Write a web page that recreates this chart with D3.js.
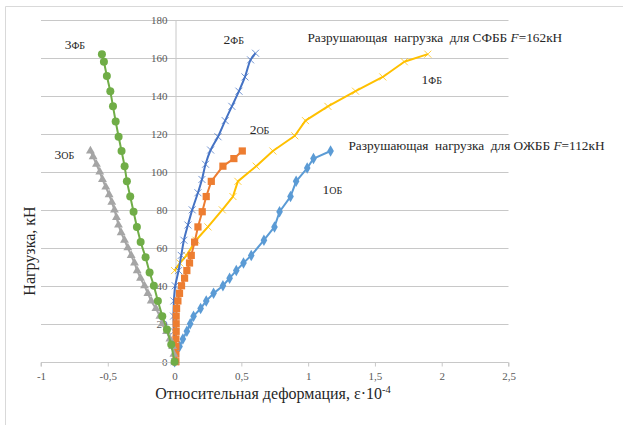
<!DOCTYPE html>
<html>
<head>
<meta charset="utf-8">
<script src="https://cdn.jsdelivr.net/npm/d3@7"></script>
<style>
  body { margin: 0; background: #fff; }
  text { font-family: "Liberation Serif", "Times New Roman", serif; }
</style>
</head>
<body>
<div id="chart"></div>
<script>
// values: [strain (e-4), load kN]
const ob1 = [[0,0],[0.01,4],[0.037,8],[0.062,12],[0.092,16],[0.117,20],[0.142,24],[0.195,28],[0.237,32],[0.292,36],[0.362,40],[0.412,44],[0.462,48],[0.516,52],[0.574,56],[0.669,64],[0.748,71],[0.786,79],[0.868,87],[0.91,95],[0.993,102],[1.04,107],[1.168,111]];
const ob2 = [[0.01,0],[0.01,4],[0.01,8],[0.01,12],[0.012,16],[0.012,20],[0.012,24],[0.015,28],[0.025,32],[0.037,36],[0.052,40],[0.075,44],[0.092,48],[0.112,52],[0.125,56],[0.15,63],[0.175,71],[0.207,79],[0.237,87],[0.275,95],[0.362,103],[0.444,107],[0.507,111]];
const ob3 = [[0,0],[-0.005,4],[-0.015,8],[-0.035,12],[-0.06,16],[-0.09,20],[-0.11,24],[-0.14,28],[-0.175,32],[-0.2,36],[-0.225,40],[-0.255,44],[-0.28,48],[-0.3,52],[-0.325,56],[-0.35,60],[-0.375,64],[-0.4,68],[-0.42,72],[-0.435,76],[-0.45,80],[-0.47,84],[-0.49,88],[-0.515,92],[-0.54,96],[-0.56,100],[-0.585,104],[-0.61,108],[-0.63,111]];
const fb1 = [[0,48],[0.04,52],[0.09,56],[0.16,64],[0.25,71],[0.357,80],[0.437,87],[0.474,95],[0.611,103],[0.736,111],[0.9,119],[0.98,127],[1.148,134.5],[1.355,142.5],[1.559,150],[1.72,158],[1.896,162]];
const fb2 = [[0,0],[0,8],[-0.005,16],[-0.008,24],[-0.005,32],[0.005,40],[0.03,48],[0.05,56],[0.07,64],[0.1,72],[0.132,80],[0.175,89],[0.205,96],[0.232,104],[0.27,111.5],[0.325,118.5],[0.379,127],[0.429,134.5],[0.482,142.5],[0.527,150],[0.569,159],[0.606,162.5]];
const fb3 = [[0,0],[-0.025,9],[-0.057,17],[-0.092,24],[-0.125,32],[-0.155,40],[-0.187,47],[-0.217,55],[-0.254,63],[-0.282,71],[-0.307,79],[-0.332,87],[-0.357,95],[-0.374,103],[-0.397,111],[-0.419,118.5],[-0.441,126.5],[-0.461,134.5],[-0.481,142.5],[-0.507,150.5],[-0.529,158],[-0.544,162]];

const xTicks = [-1, -0.5, 0, 0.5, 1, 1.5, 2, 2.5];
const xTickLabels = ["-1", "-0,5", "0", "0,5", "1", "1,5", "2", "2,5"];
const yTicks = [0, 20, 40, 60, 80, 100, 120, 140, 160, 180];

const series = [
  { name: "1ФБ", data: fb1, color: "#ffc000", marker: "cross", curve: d3.curveLinear },
  { name: "2ФБ", data: fb2, color: "#4472c4", marker: "cross", curve: d3.curveCatmullRom },
  { name: "1ОБ", data: ob1, color: "#5b9bd5", marker: "diamond", curve: d3.curveLinear },
  { name: "2ОБ", data: ob2, color: "#ed7d31", marker: "square", curve: d3.curveLinear },
  { name: "3ОБ", data: ob3, color: "#a5a5a5", marker: "triangle", curve: d3.curveLinear },
  { name: "3ФБ", data: fb3, color: "#70ad47", marker: "circle", curve: d3.curveLinear }
];

// series labels, anchored in data units
const seriesLabels = [
  { num: "3", sub: "ФБ", at: [-0.823, 164.5] },
  { num: "2", sub: "ФБ", at: [0.367, 167.5] },
  { num: "2", sub: "ОБ", at: [0.562, 120] },
  { num: "3", sub: "ОБ", at: [-0.898, 107] },
  { num: "1", sub: "ФБ", at: [1.849, 146.5] },
  { num: "1", sub: "ОБ", at: [1.108, 88.3] }
];
const notes = [
  { pre: "Разрушающая  нагрузка  для СФББ ", f: "F", post: "=162кН", at: [0.995, 168.5] },
  { pre: "Разрушающая  нагрузка  для ОЖББ ", f: "F", post: "=112кН", at: [1.302, 111.5] }
];

const width = 626;
const height = 425;

const svg = d3.select("#chart")
  .append("svg")
  .attr("width", width)
  .attr("height", height);

// chart frame (only top and left edges are in view)
svg.append("path")
  .attr("d", "M5.5,425V6.5H623")
  .attr("fill", "none")
  .attr("stroke", "#d9d9d9");

const x = d3.scaleLinear().domain([-1, 2.5]).range([41, 508.5]);
const y = d3.scaleLinear().domain([0, 180]).range([361.7, 20]);

// gridlines
svg.append("g")
  .selectAll("line")
  .data(yTicks.slice(1))
  .join("line")
  .attr("x1", x(-1))
  .attr("x2", x(2.5))
  .attr("y1", d => Math.round(y(d)) + 0.5)
  .attr("y2", d => Math.round(y(d)) + 0.5)
  .attr("stroke", "#c8c8c8")
  .attr("stroke-width", 1);

// y axis at x = 0
const yAxis = svg.append("g")
  .attr("transform", `translate(${Math.round(x(0)) + 0.5},0)`)
  .call(d3.axisLeft(y).tickValues(yTicks).tickSize(0).tickPadding(8));
yAxis.attr("font-family", null);
yAxis.select(".domain").attr("stroke", "#c8c8c8");
yAxis.selectAll("text")
  .style("font-size", "11px")
  .attr("fill", "#595959");

// x axis at y = 0
const xAxis = svg.append("g")
  .attr("transform", `translate(0,${Math.round(y(0)) + 0.5})`)
  .call(d3.axisBottom(x).tickValues(xTicks).tickSize(4).tickPadding(6)
    .tickFormat((d, i) => xTickLabels[i]));
xAxis.attr("font-family", null);
xAxis.select(".domain").attr("stroke", "#c8c8c8").attr("d", `M${x(-1)},4V0H${x(2.5)}V4`);
xAxis.selectAll("line").attr("stroke", "#c8c8c8");
xAxis.selectAll("text")
  .style("font-size", "11px")
  .attr("fill", "#595959");

// series
const line = d3.line().x(d => x(d[0])).y(d => y(d[1]));

function marker(g, s) {
  const pts = g.selectAll(".pt").data(s.data).join("g")
    .attr("class", "pt")
    .attr("transform", d => `translate(${x(d[0])},${y(d[1])})`);
  if (s.marker === "circle") {
    pts.append("circle").attr("r", 4).attr("fill", s.color);
  } else if (s.marker === "cross") {
    pts.append("path").attr("d", "M-3.5,-3.5L3.5,3.5M-3.5,3.5L3.5,-3.5")
      .attr("stroke", s.color).attr("stroke-width", 1).attr("opacity", 0.75);
  } else {
    const type = { diamond: d3.symbolDiamond, square: d3.symbolSquare, triangle: d3.symbolTriangle }[s.marker];
    const size = { diamond: 38, square: 52, triangle: 34 }[s.marker];
    pts.append("path").attr("d", d3.symbol(type, size)()).attr("fill", s.color);
  }
}

series.forEach(s => {
  const g = svg.append("g");
  g.append("path")
    .datum(s.data)
    .attr("d", line.curve(s.curve))
    .attr("fill", "none")
    .attr("stroke", s.color)
    .attr("stroke-width", 2)
    .attr("stroke-linejoin", "round");
  marker(g, s);
});

// series labels
seriesLabels.forEach(l => {
  const t = svg.append("text")
    .attr("x", x(l.at[0]))
    .attr("y", y(l.at[1]))
    .attr("fill", "#262626");
  t.append("tspan").style("font-size", "13.5px").text(l.num);
  t.append("tspan").style("font-size", "10px").text(l.sub);
});

notes.forEach(n => {
  const t = svg.append("text")
    .attr("x", x(n.at[0]))
    .attr("y", y(n.at[1]))
    .attr("fill", "#262626")
    .style("font-size", "13.3px")
    .style("white-space", "pre");
  t.append("tspan").text(n.pre);
  t.append("tspan").style("font-style", "italic").text(n.f);
  t.append("tspan").text(n.post);
});

// axis titles
const xt = svg.append("text")
  .attr("x", 273)
  .attr("y", 399)
  .attr("text-anchor", "middle")
  .attr("fill", "#262626")
  .style("font-size", "16px");
xt.append("tspan").text("Относительная деформация, ε·10");
xt.append("tspan").attr("dy", -6).style("font-size", "10.5px").text("-4");

svg.append("text")
  .attr("transform", "translate(35,251) rotate(-90)")
  .attr("text-anchor", "middle")
  .attr("fill", "#262626")
  .style("font-size", "16px")
  .text("Нагрузка, кН");
</script>
</body>
</html>
